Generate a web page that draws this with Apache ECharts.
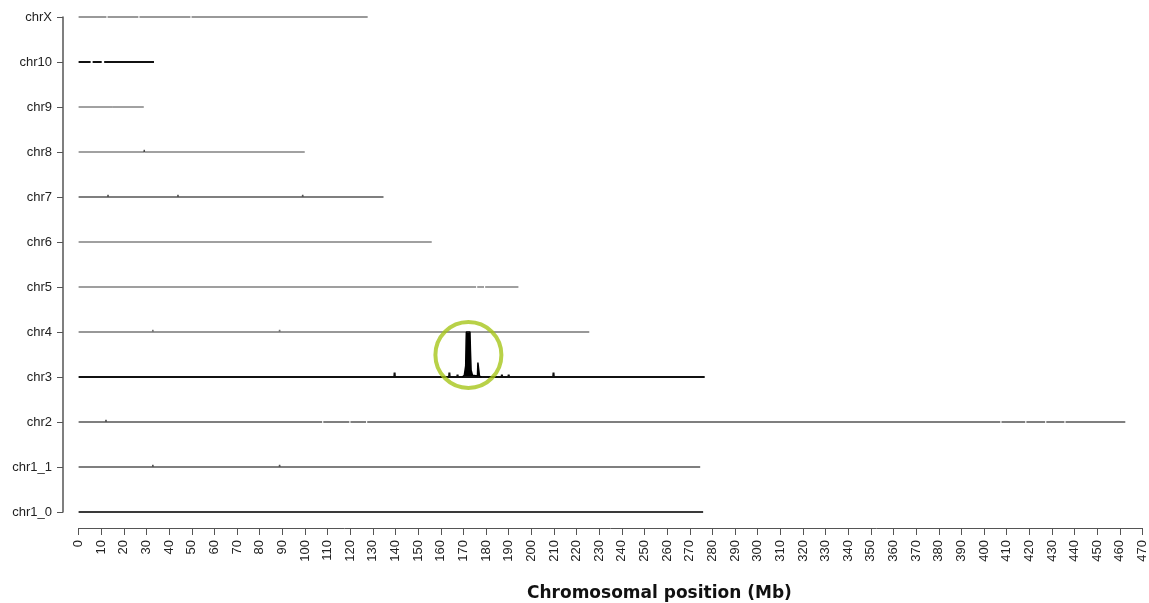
<!DOCTYPE html>
<html>
<head>
<meta charset="utf-8">
<script src="https://cdn.jsdelivr.net/npm/echarts@6/dist/echarts.min.js"></script>
<style>html,body{margin:0;padding:0;background:#fff}#c{width:1149px;height:603px}</style>
</head>
<body>
<div id="c"></div>
<script>
// Chromosome names, bottom to top
const chromosomes = ['chr1_0','chr1_1','chr2','chr3','chr4','chr5','chr6','chr7','chr8','chr9','chr10','chrX'];
// Chromosome lengths (Mb)
const lengths = [275.9, 274.6, 462.4, 276.6, 225.6, 194.3, 156.0, 134.7, 99.9, 28.8, 33.3, 127.7];
// Small coverage blips [position Mb, height in track units]
const blips = {
  chr1_0: [[5,0.02],[20,0.02],[45,0.02],[70,0.02],[140,0.02],[250,0.02],[262,0.02]],
  chr1_1: [[2.8,0.04],[5.9,0.04],[9.4,0.04],[14.3,0.03],[25.7,0.04],[28.8,0.04],[32.8,0.05],[62.4,0.04],[88.8,0.05],[94.2,0.04],[120.6,0.04],[141.7,0.04],[160.8,0.04],[171.5,0.04],[229,0.04],[256,0.04]],
  chr2:   [[12.1,0.05]],
  chr3:   [[10,0.03],[25,0.03],[36,0.04],[50,0.03],[68,0.04],[80,0.03],[93,0.04],[110,0.03],[125,0.03],[139.6,0.1],[150,0.03],[163.8,0.1],[167.4,0.05],[187,0.05],[190,0.05],[200,0.03],[209.8,0.1],[230,0.03],[250,0.03],[265,0.03]],
  chr4:   [[2.8,0.04],[5.9,0.04],[9.4,0.04],[14.3,0.03],[25.7,0.04],[28.8,0.04],[32.8,0.05],[62.4,0.04],[88.8,0.05],[94.2,0.04],[120.6,0.04],[142,0.04],[175.8,0.04],[196,0.04]],
  chr5:   [],
  chr6:   [],
  chr7:   [[0.5,0.04],[2,0.04],[3.6,0.04],[9.5,0.04],[13,0.05],[34.6,0.04],[36.8,0.04],[43.9,0.05],[47,0.04],[64,0.04],[85.8,0.04],[89.7,0.04],[93.3,0.04],[96,0.04],[99,0.05],[102,0.04],[107.8,0.04],[111.6,0.04],[118,0.04],[121,0.04],[124,0.04],[130.7,0.04],[134,0.04]],
  chr8:   [[29,0.05],[63.7,0.04],[98.6,0.04]],
  chr9:   [[15,0.03]],
  chr10:  [],
  chrX:   [[43.4,0.04]]
};
// Coverage gaps [start Mb, end Mb]
const gaps = {
  chr2:  [[107.6,108.1],[119.6,120.1],[127.0,127.5],[407.2,407.7],[418.2,418.7],[427.0,427.5],[435.5,436.0]],
  chr5:  [[175.6,176.1],[179.1,179.6]],
  chr10: [[5.3,6.2],[10.2,11.3]],
  chrX:  [[12.3,12.8],[26.4,26.9],[49.4,49.9]]
};
// chr3 main peak profile [position Mb, height]
const chr3Peak = [[169.5,0],[170.4,0.04],[171.0,0.25],[171.2,0.8],[171.3,1.0],[172.9,1.0],[173.1,0.6],[173.4,0.15],[174.0,0.04],[176.2,0.02],[176.4,0.32],[176.9,0.32],[177.1,0.02],[178,0]];
// Highlight circle centre [Mb, track units]
const highlight = [172.2, 3.49];
// X tick settings
const xMax = 470, xStep = 10;

const styles = {
  chr1_0:{c:'#3a3a3a',w:2}, chr1_1:{c:'#555',w:1.5}, chr2:{c:'#555',w:1.5}, chr3:{c:'#111',w:2},
  chr4:{c:'#777',w:1.5}, chr5:{c:'#808080',w:1.5}, chr6:{c:'#808080',w:1.5}, chr7:{c:'#555',w:1.5},
  chr8:{c:'#444',w:1.2}, chr9:{c:'#444',w:1}, chr10:{c:'#111',w:2}, chrX:{c:'#999',w:2}
};

function buildLine(name, idx) {
  const base = idx;
  const ev = [];
  ev.push([0, base]);
  (blips[name] || []).forEach(([p,h]) => { ev.push([p-0.15, base]); ev.push([p, base+h]); ev.push([p+0.15, base]); });
  (gaps[name] || []).forEach(([a,b]) => { ev.push([a, base]); ev.push([(a+b)/2, null]); ev.push([b, base]); });
  ev.push([lengths[idx], base]);
  ev.sort((a,b)=>a[0]-b[0]);
  return ev;
}

const series = chromosomes.map((name, i) => ({
  type:'line', name, data: buildLine(name, i), showSymbol:false, symbol:'none',
  lineStyle:{color:styles[name].c, width:styles[name].w}, connectNulls:false, animation:false, silent:true
}));
const c3 = chromosomes.indexOf('chr3');
series.push({
  type:'line', name:'chr3peak', data: chr3Peak.map(([p,h])=>[p, c3+h]), symbol:'none',
  lineStyle:{color:'#000', width:1.5}, areaStyle:{color:'#000', opacity:1, origin:c3}, animation:false, silent:true
});
series.push({
  type:'scatter', data:[highlight], symbol:'circle', symbolSize:66,
  itemStyle:{color:'rgba(0,0,0,0)', borderColor:'#a6c61a', borderWidth:4}, z:10, animation:false, silent:true
});

const chart = echarts.init(document.getElementById('c'));
chart.setOption({
  backgroundColor:'#fff',
  animation:false,
  grid:{left:78.6, right:5, top:17, bottom:91, containLabel:false},
  xAxis:{type:'value', min:0, max:xMax, interval:xStep, offset:16,
    axisLine:{onZero:false, lineStyle:{color:'#555', width:1}},
    axisTick:{length:7, lineStyle:{color:'#555'}},
    axisLabel:{rotate:90, margin:12, color:'#222', fontFamily:'Liberation Sans, Arial', fontSize:13, showMinLabel:true, showMaxLabel:true},
    splitLine:{show:false}},
  yAxis:{type:'value', min:0, max:chromosomes.length-1, interval:1, offset:15.6,
    axisLine:{show:true, onZero:false, lineStyle:{color:'#555', width:1.5}},
    axisTick:{show:true, length:6, lineStyle:{color:'#555'}},
    axisLabel:{margin:11, color:'#222', fontFamily:'Liberation Sans, Arial', fontSize:13,
      formatter:v=>chromosomes[Math.round(v)]||''},
    splitLine:{show:false}},
  graphic:[{type:'text', left:527, top:585, style:{text:'Chromosomal position (Mb)', font:'bold 17px "DejaVu Sans"', fill:'#111'}}],
  series
});
</script>
</body>
</html>
